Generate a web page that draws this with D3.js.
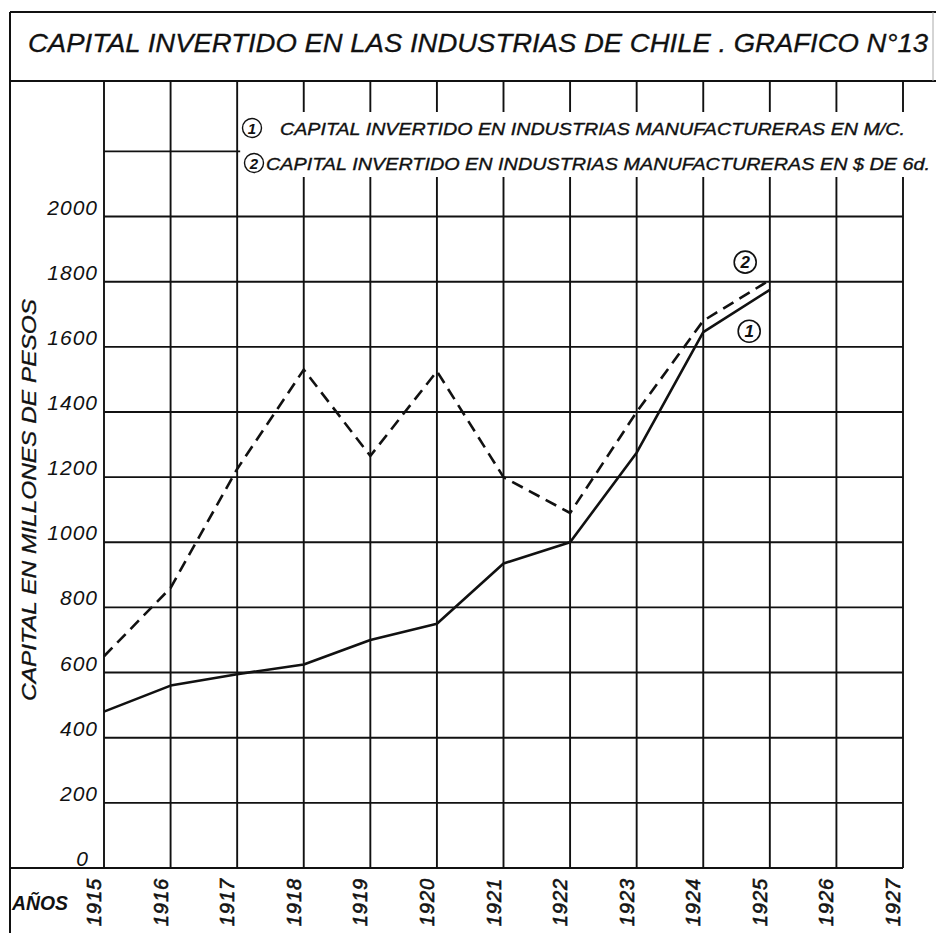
<!DOCTYPE html>
<html>
<head>
<meta charset="utf-8">
<script src="https://cdn.jsdelivr.net/npm/d3@7"></script>
<style>
  body { margin: 0; background: #fff; }
  svg { display: block; }
  text { font-family: "Liberation Sans", "DejaVu Sans", sans-serif; font-style: italic; fill: #111; }
</style>
</head>
<body>
<div id="chart"></div>
<script>
// values (millones de pesos)
const years = [1915, 1916, 1917, 1918, 1919, 1920, 1921, 1922, 1923, 1924, 1925];
const capitalMC = [480, 560, 595, 625, 700, 750, 935, 1000, 1275, 1645, 1775];
const capitalOro = [650, 860, 1225, 1530, 1265, 1525, 1200, 1090, 1400, 1680, 1805];
const yTicks = [0, 200, 400, 600, 800, 1000, 1200, 1400, 1600, 1800, 2000];
const xTicks = [1915, 1916, 1917, 1918, 1919, 1920, 1921, 1922, 1923, 1924, 1925, 1926, 1927];
const legendLines = [
  'CAPITAL INVERTIDO EN INDUSTRIAS MANUFACTURERAS EN M/C.',
  'CAPITAL INVERTIDO EN INDUSTRIAS MANUFACTURERAS EN $ DE 6d.'
];

const width = 936, height = 933;
const ink = '#111';

const svg = d3.select('#chart').append('svg')
  .attr('width', width)
  .attr('height', height);

svg.append('rect').attr('width', width).attr('height', height).attr('fill', '#fff');

let x = d3.scaleLinear().domain([1915, 1927]).range([104, 903]);
let y = d3.scaleLinear().domain([0, 2200]).range([868, 151.4]);

let gridTop = 81, gridBottom = y(0);

// title box
let frame = svg.append('g').attr('stroke', ink).attr('fill', 'none');
frame.append('line').attr('x1', 10).attr('x2', 936).attr('y1', 12).attr('y2', 12).attr('stroke-width', 2);
frame.append('line').attr('x1', 10).attr('x2', 936).attr('y1', gridTop).attr('y2', gridTop).attr('stroke-width', 2.2);
frame.append('line').attr('x1', 10).attr('x2', 10).attr('y1', 12).attr('y2', 933).attr('stroke-width', 2);
frame.append('line').attr('x1', 933).attr('x2', 933).attr('y1', 12).attr('y2', gridTop).attr('stroke-width', 1).attr('stroke', '#aaa');

svg.append('text')
  .attr('x', 28).attr('y', 52)
  .attr('font-size', 26)
  .attr('stroke', ink).attr('stroke-width', 0.3)
  .attr('textLength', 900).attr('lengthAdjust', 'spacingAndGlyphs')
  .text('CAPITAL INVERTIDO EN LAS INDUSTRIAS DE CHILE . GRAFICO N°13');

// grid
let grid = svg.append('g').attr('stroke', ink).attr('stroke-width', 1.9);
grid.selectAll('line.v')
  .data(xTicks)
  .enter().append('line')
  .attr('class', 'v')
  .attr('x1', d => x(d)).attr('x2', d => x(d))
  .attr('y1', gridTop).attr('y2', gridBottom);

grid.selectAll('line.h')
  .data(yTicks.concat([2200]))
  .enter().append('line')
  .attr('class', 'h')
  .attr('x1', d => d === 0 ? 10 : x(1915))
  .attr('x2', x(1927))
  .attr('y1', d => y(d)).attr('y2', d => y(d))
  .attr('stroke-width', d => d === 0 ? 2.2 : 1.9);

// legend sits on a blank strip that hides the grid
svg.append('rect')
  .attr('x', x(1917) + 3).attr('y', 112)
  .attr('width', width - x(1917) - 3).attr('height', 65)
  .attr('fill', '#fff');

legendLines.forEach((t, i) => {
  let cy = 128 + i * 35;
  let cx = 252 + i * 2;
  svg.append('circle').attr('cx', cx).attr('cy', cy).attr('r', 9.5)
    .attr('fill', 'none').attr('stroke', ink).attr('stroke-width', 1.4);
  svg.append('text').attr('x', cx).attr('y', cy + 5.5)
    .attr('text-anchor', 'middle').attr('font-size', 15).attr('font-weight', 'bold').text(i + 1);
  svg.append('text')
    .attr('x', i === 0 ? 280 : 266).attr('y', cy + 7)
    .attr('font-size', 17)
    .attr('stroke', ink).attr('stroke-width', 0.35)
    .attr('textLength', i === 0 ? 625 : 664).attr('lengthAdjust', 'spacingAndGlyphs')
    .text(t);
});

// y labels
svg.append('g').selectAll('text')
  .data(yTicks)
  .enter().append('text')
  .attr('x', d => d === 0 ? 89 : 98)
  .attr('y', d => y(d) - 2)
  .attr('text-anchor', 'end')
  .attr('font-size', 21)
  .attr('letter-spacing', 1)
  .text(d => d);

svg.append('text')
  .attr('transform', 'translate(36,500) rotate(-90)')
  .attr('text-anchor', 'middle')
  .attr('font-size', 21)
  .attr('stroke', ink).attr('stroke-width', 0.3)
  .attr('textLength', 402).attr('lengthAdjust', 'spacingAndGlyphs')
  .text('CAPITAL EN MILLONES DE PESOS');

// x labels
svg.append('g').selectAll('text')
  .data(xTicks)
  .enter().append('text')
  .attr('transform', d => 'translate(' + (x(d) - 10 + 7) + ',902) rotate(-90)')
  .attr('text-anchor', 'middle')
  .attr('font-size', 20)
  .attr('stroke', ink).attr('stroke-width', 0.6)
  .attr('letter-spacing', 1)
  .text(d => d);

svg.append('text')
  .attr('x', 12).attr('y', 910)
  .attr('font-size', 20).attr('font-weight', 'bold')
  .attr('textLength', 56).attr('lengthAdjust', 'spacingAndGlyphs')
  .text('AÑOS');

// series
let line = d3.line().x(d => x(d[0])).y(d => y(d[1]));

svg.append('path')
  .datum(d3.zip(years, capitalMC))
  .attr('d', line)
  .attr('fill', 'none').attr('stroke', ink).attr('stroke-width', 2.6)
  .attr('stroke-linejoin', 'round');

svg.append('path')
  .datum(d3.zip(years, capitalOro))
  .attr('d', line)
  .attr('fill', 'none').attr('stroke', ink).attr('stroke-width', 2.6)
  .attr('stroke-dasharray', '12,7');

// circled series numbers next to the 1925 ends
let marks = [[1924.63, 1860, 2], [1924.69, 1648, 1]];
marks.forEach(m => {
  svg.append('circle').attr('cx', x(m[0])).attr('cy', y(m[1])).attr('r', 11)
    .attr('fill', '#fff').attr('stroke', ink).attr('stroke-width', 1.6);
  svg.append('text').attr('x', x(m[0])).attr('y', y(m[1]) + 6)
    .attr('text-anchor', 'middle').attr('font-size', 17).attr('font-weight', 'bold')
    .text(m[2]);
});
</script>
</body>
</html>
